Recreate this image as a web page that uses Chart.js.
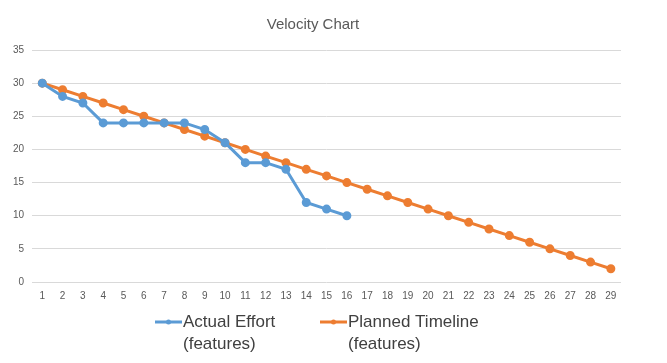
<!DOCTYPE html>
<html lang="en">
<head>
  <meta charset="UTF-8">
  <title>Velocity Chart</title>
  <script src="https://cdn.jsdelivr.net/npm/chart.js"></script>
  <style>
    html, body { margin: 0; padding: 0; background: #fff; }
    #wrap { width: 667px; height: 363px; }
  </style>
</head>
<body>
  <div id="wrap"><canvas id="velocityChart" width="667" height="363"></canvas></div>

  <script>
    const days = ['1','2','3','4','5','6','7','8','9','10','11','12','13','14','15','16','17','18','19','20','21','22','23','24','25','26','27','28','29'];
    const actualEffort = [30, 28, 27, 24, 24, 24, 24, 24, 23, 21, 18, 18, 17, 12, 11, 10];
    const plannedTimeline = [30, 29, 28, 27, 26, 25, 24, 23, 22, 21, 20, 19, 18, 17, 16, 15, 14, 13, 12, 11, 10, 9, 8, 7, 6, 5, 4, 3, 2];
    const seriesNames = [['Actual Effort', '(features)'], ['Planned Timeline', '(features)']];

    const BLUE = '#5B9BD5';
    const ORANGE = '#ED7D31';
    const FONT = '"Liberation Sans", Arial, sans-serif';

    // legend with two-line labels, drawn under the axis
    const twoLineLegend = {
      id: 'twoLineLegend',
      afterDraw(chart) {
        const ctx = chart.ctx;
        const starts = [155, 320];
        ctx.save();
        chart.data.datasets.forEach((ds, i) => {
          const x = starts[i];
          const y = 322;
          ctx.strokeStyle = ds.borderColor;
          ctx.lineWidth = 3;
          ctx.beginPath();
          ctx.moveTo(x, y);
          ctx.lineTo(x + 27, y);
          ctx.stroke();
          ctx.fillStyle = ds.borderColor;
          ctx.beginPath();
          ctx.arc(x + 13.5, y, 2.5, 0, Math.PI * 2);
          ctx.fill();
          ctx.fillStyle = '#404040';
          ctx.font = '17px ' + FONT;
          ctx.textBaseline = 'middle';
          ctx.textAlign = 'left';
          ds.label.forEach((line, j) => ctx.fillText(line, x + 28, y + j * 22));
        });
        ctx.restore();
      }
    };

    new Chart(document.getElementById('velocityChart'), {
      type: 'line',
      data: {
        labels: days,
        datasets: [
          {
            label: seriesNames[0],
            data: actualEffort,
            borderColor: BLUE,
            backgroundColor: BLUE,
            borderWidth: 3,
            pointRadius: 3,
            pointHoverRadius: 3,
            tension: 0
          },
          {
            label: seriesNames[1],
            data: plannedTimeline,
            borderColor: ORANGE,
            backgroundColor: ORANGE,
            borderWidth: 3,
            pointRadius: 3,
            pointHoverRadius: 3,
            tension: 0
          }
        ]
      },
      options: {
        responsive: false,
        animation: false,
        layout: { padding: { left: 5, right: 46, top: 6, bottom: 53 } },
        plugins: {
          legend: { display: false },
          tooltip: { enabled: false },
          title: {
            display: true,
            text: 'Velocity Chart',
            color: '#595959',
            font: { family: FONT, size: 15, weight: 'normal' },
            padding: { top: 10, bottom: 16 }
          }
        },
        scales: {
          x: {
            offset: true,
            grid: { display: false, drawTicks: false },
            border: { display: false },
            ticks: { color: '#595959', font: { family: FONT, size: 10 }, maxRotation: 0, autoSkip: false, padding: 8 }
          },
          y: {
            min: 0,
            max: 35,
            ticks: { stepSize: 5, color: '#595959', font: { family: FONT, size: 10 }, padding: 8 },
            grid: { color: '#D9D9D9', drawTicks: false },
            border: { display: false }
          }
        }
      },
      plugins: [twoLineLegend]
    });
  </script>
</body>
</html>
